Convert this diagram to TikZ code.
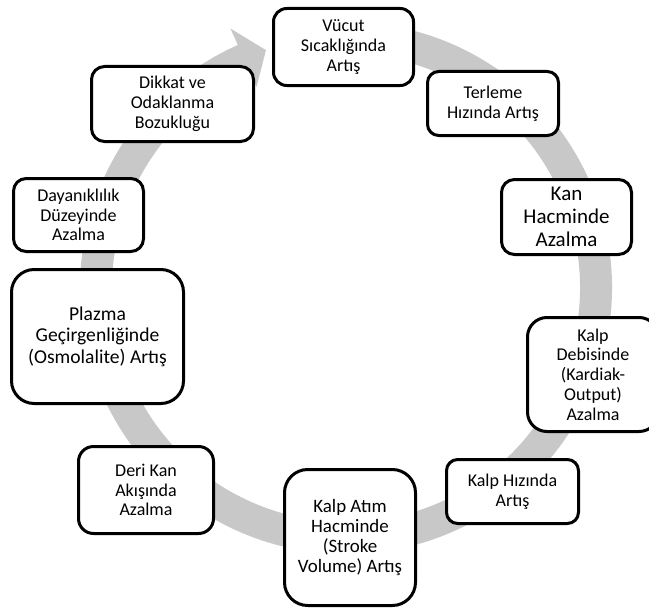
\documentclass[tikz,border=0pt]{standalone}
\usepackage{fontspec}
\setmainfont{Carlito}

\tikzset{every picture/.style={line width=0.75pt}}
\tikzset{cyclebox/.style={draw={rgb, 255:red, 0; green, 0; blue, 0 }, fill=white, line width=2.25pt, inner sep=0pt, align=center, font=\fontsize{13.5}{14.85}\selectfont}}

\begin{document}
\begin{tikzpicture}[x=0.75pt,y=0.75pt,yscale=-1,xscale=1]
\useasboundingbox (0,0) rectangle (649,610);
\clip (0,0) rectangle (649,610);

%Shape: Circular Arrow
\begin{scope}[shift={(346,288)},yscale=-1]
\fill [fill={rgb, 255:red, 200; green, 200; blue, 200 }  ,fill opacity=1 ] (80:266) arc [start angle=80, end angle=-246, radius=266] -- (-246:284) -- (-251.4:251) -- (-246:220) -- (-246:234) arc [start angle=-246, end angle=80, radius=234] -- cycle ;
\end{scope}

%Rounded Rect
\node [cyclebox, minimum width=105pt, minimum height=57.75pt, rounded corners=10pt] (vucut) at (343.5,47) {Vücut\\Sıcaklığında\\Artış};
%Rounded Rect
\node [cyclebox, minimum width=98.25pt, minimum height=48pt, rounded corners=8.4pt] (terleme) at (493,103.5) {Terleme\\Hızında Artış};
%Rounded Rect
\node [cyclebox, minimum width=97.5pt, minimum height=56.25pt, rounded corners=9.75pt, font=\fontsize{15.75}{17.3}\selectfont] (kanhacim) at (566.5,217) {Kan\\Hacminde\\Azalma};
%Rounded Rect
\node [cyclebox, minimum width=98.25pt, minimum height=85.5pt, rounded corners=14.6pt] (debi) at (593,374.5) {Kalp\\Debisinde\\(Kardiak-\\Output)\\Azalma};
%Rounded Rect
\node [cyclebox, minimum width=99pt, minimum height=48pt, rounded corners=8.4pt] (kalphiz) at (512.5,491.5) {Kalp Hızında\\Artış};
%Rounded Rect
\node [cyclebox, minimum width=98.25pt, minimum height=102pt, rounded corners=17.4pt, font=\fontsize{14.2}{15.2}\selectfont] (atim) at (350,537.5) {Kalp Atım\\Hacminde\\(Stroke\\Volume) Artış};
%Rounded Rect
\node [cyclebox, minimum width=101.25pt, minimum height=65.25pt, rounded corners=11.25pt] (derikan) at (146,490) {Deri Kan\\Akışında\\Azalma};
%Rounded Rect
\node [cyclebox, minimum width=129pt, minimum height=100.5pt, rounded corners=17pt, font=\fontsize{14.7}{16.2}\selectfont] (plazma) at (97.5,336.5) {Plazma\\Geçirgenliğinde\\(Osmolalite) Artış};
%Rounded Rect
\node [cyclebox, minimum width=97.5pt, minimum height=54.75pt, rounded corners=9.5pt] (dayanik) at (78.5,215) {Dayanıklılık\\Düzeyinde\\Azalma};
%Rounded Rect
\node [cyclebox, minimum width=121.5pt, minimum height=56.25pt, rounded corners=9.75pt] (dikkat) at (172.5,104) {Dikkat ve\\Odaklanma\\Bozukluğu};

\end{tikzpicture}
\end{document}
